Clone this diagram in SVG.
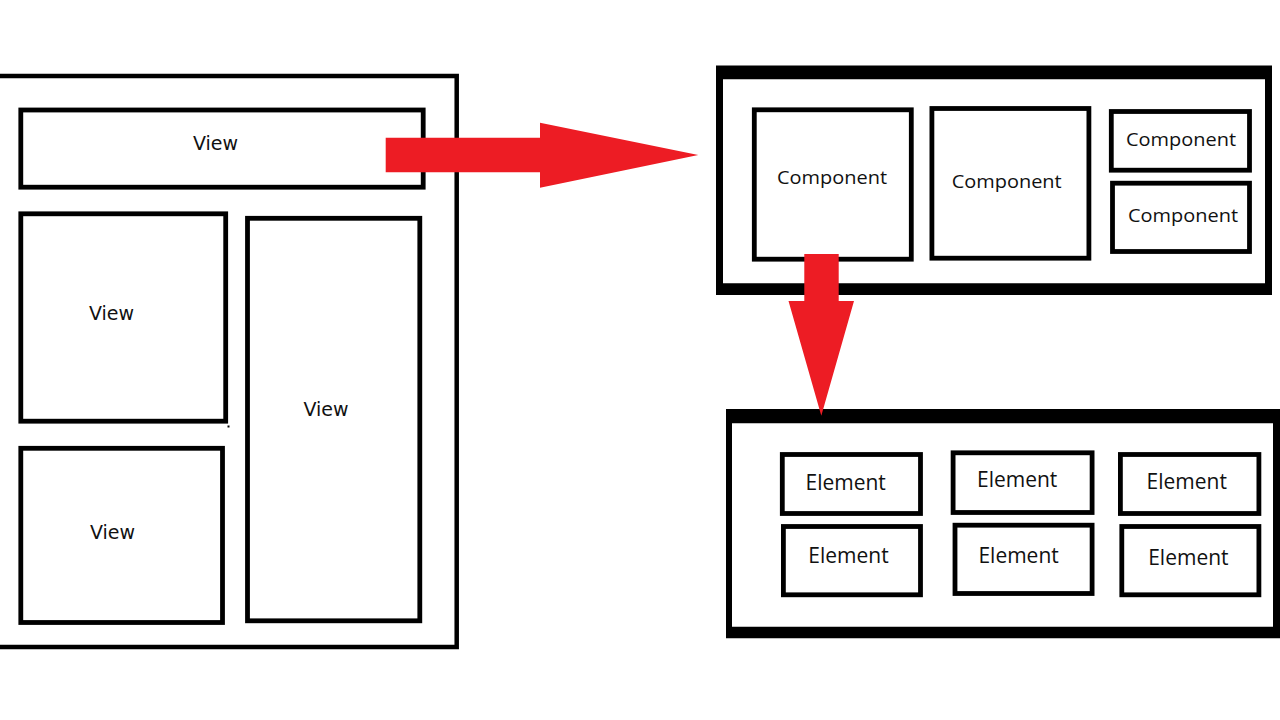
<svg xmlns="http://www.w3.org/2000/svg" width="1280" height="720" viewBox="0 0 1280 720">
  <style>
    .box { fill: none; stroke: #000; stroke-width: 4.8; }
    .thick { fill: #000; fill-rule: evenodd; }
    .arrow { fill: #ED1C24; }
    .view { font-family: "DejaVu Sans", Verdana, sans-serif; font-size: 19px; fill: #111; text-anchor: middle; }
    .comp { font-family: "Open Sans", "Liberation Sans", sans-serif; font-size: 18.6px; fill: #111; text-anchor: middle; }
    .elem { font-family: "Open Sans", "Liberation Sans", sans-serif; font-size: 21px; fill: #111; text-anchor: middle; }
  </style>
  <rect width="1280" height="720" fill="#fff"/>

  <!-- Left page of views -->
  <g id="page">
    <rect x="-10" y="76" width="466.7" height="571" fill="none" stroke="#000" stroke-width="4.5"/>
    <path d="M227.5 425.5 h2 v2 h-2 z" fill="#000"/>
  </g>
  <g id="view-top">
    <rect class="box" x="20.8" y="110" width="402.4" height="77.2"/>
    <text class="view" x="215.5" y="150">View</text>
  </g>
  <g id="view-midleft">
    <rect class="box" x="20.8" y="213.8" width="204.9" height="207.4"/>
    <text class="view" x="111.5" y="320">View</text>
  </g>
  <g id="view-tall">
    <rect class="box" x="247.5" y="218.3" width="172.3" height="402.5"/>
    <text class="view" x="326" y="416">View</text>
  </g>
  <g id="view-bottomleft">
    <rect class="box" x="20.8" y="448.3" width="201.7" height="174.2"/>
    <text class="view" x="112.5" y="539">View</text>
  </g>

  <!-- Component container -->
  <g id="components">
    <path class="thick" d="M716 65.5 H1272 V295 H716 Z M723 79.3 V283.3 H1265 V79.3 Z"/>
  </g>
  <g id="comp-1">
    <rect class="box" x="754.3" y="109.8" width="157" height="149.4"/>
    <text class="comp" x="832" y="183.5" textLength="110" lengthAdjust="spacingAndGlyphs">Component</text>
  </g>
  <g id="comp-2">
    <rect class="box" x="931.9" y="108.5" width="157" height="149.7"/>
    <text class="comp" x="1006.7" y="187.7" textLength="110" lengthAdjust="spacingAndGlyphs">Component</text>
  </g>
  <g id="comp-3">
    <rect class="box" x="1111.3" y="111.5" width="138.2" height="58.7"/>
    <text class="comp" x="1181" y="145.7" textLength="110" lengthAdjust="spacingAndGlyphs">Component</text>
  </g>
  <g id="comp-4">
    <rect class="box" x="1112.5" y="183.2" width="137" height="68.3"/>
    <text class="comp" x="1183" y="221.7" textLength="110" lengthAdjust="spacingAndGlyphs">Component</text>
  </g>

  <!-- Element container -->
  <g id="elements">
    <path class="thick" d="M726 409 H1290 V638.3 H726 Z M732 423.3 V626.7 H1273 V423.3 Z"/>
  </g>
  <g id="elem-1">
    <rect class="box" x="782.3" y="454.5" width="138.2" height="59"/>
    <text class="elem" x="845.7" y="490">Element</text>
  </g>
  <g id="elem-2">
    <rect class="box" x="953.1" y="452.8" width="139" height="59.7"/>
    <text class="elem" x="1017.2" y="487.3">Element</text>
  </g>
  <g id="elem-3">
    <rect class="box" x="1120.4" y="454.5" width="138.5" height="59"/>
    <text class="elem" x="1186.8" y="489">Element</text>
  </g>
  <g id="elem-4">
    <rect class="box" x="783.4" y="526.5" width="137.1" height="68.3"/>
    <text class="elem" x="848.5" y="563.3">Element</text>
  </g>
  <g id="elem-5">
    <rect class="box" x="955" y="525.2" width="137.1" height="68.3"/>
    <text class="elem" x="1018.6" y="563.3">Element</text>
  </g>
  <g id="elem-6">
    <rect class="box" x="1121.8" y="526.5" width="137.1" height="68.3"/>
    <text class="elem" x="1188.4" y="565">Element</text>
  </g>

  <!-- Connectors -->
  <g id="connectors">
    <path class="arrow" d="M385.7 137.7 H540 V122.7 L698.3 155 L540 187.7 V172.3 H385.7 Z"/>
    <path class="arrow" d="M804.3 254 H838.7 V301 H854 L821.3 415.7 L788.5 301 H804.3 Z"/>
  </g>
</svg>
